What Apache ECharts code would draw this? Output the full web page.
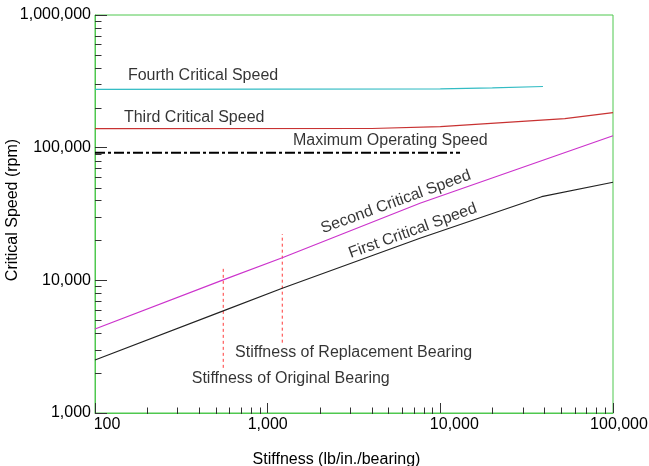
<!DOCTYPE html>
<html><head><meta charset="utf-8">
<script src="https://cdn.jsdelivr.net/npm/echarts@6/dist/echarts.min.js"></script>
<style>html,body{margin:0;padding:0;background:#fff}#c{width:649px;height:466px}</style>
</head><body><div id="c"></div>
<script>
// ---- data ----
const stiffness1 = [100, 553, 1215, 7620, 38600, 100000];
const firstCritical = [2510, 5880, 8710, 20770, 42700, 54900];
const stiffness2 = [100, 553, 1215, 7620, 100000];
const secondCritical = [4300, 10070, 14800, 38100, 123000];
const stiffness3 = [100, 4000, 10000, 52600, 100000];
const thirdCritical = [139000, 139500, 143900, 165500, 183600];
const stiffness4 = [100, 10000, 20000, 39300];
const fourthCritical = [275000, 277000, 282000, 289000];
const maxOpStiffness = [100, 13000];
const maxOperatingSpeed = [91700, 91700];
const originalBearing = 553;
const originalRange = [2190, 12850];
const replacementBearing = 1215;
const replacementRange = [3390, 22370];
const xMin = 100, xMax = 100000, yMin = 1000, yMax = 1000000;
const xTickLabels = ['100', '1,000', '10,000', '100,000'];
const yTickLabels = ['1,000', '10,000', '100,000', '1,000,000'];
const xMinorTicks = [200,300,400,500,600,700,800,900,2000,3000,4000,5000,6000,7000,8000,9000,20000,30000,40000,50000,60000,70000,80000,90000];
const yMinorTicks = [2000,3000,4000,5000,6000,7000,8000,9000,20000,30000,40000,50000,60000,70000,80000,90000,200000,300000,400000,500000,600000,700000,800000,900000];
// annotation texts with their anchor in data coordinates
const annotations = [
  {text: 'Fourth Critical Speed', at: [155, 349000], rotate: 0, align: 'left'},
  {text: 'Third Critical Speed', at: [147, 169500], rotate: 0, align: 'left'},
  {text: 'Maximum Operating Speed', at: [1401, 112300], rotate: 0, align: 'left'},
  {text: 'Second Critical Speed', at: [5530, 39000], rotate: 20, align: 'center'},
  {text: 'First Critical Speed', at: [6930, 23600], rotate: 20, align: 'center'},
  {text: 'Stiffness of Replacement Bearing', at: [647, 2853], rotate: 0, align: 'left'},
  {text: 'Stiffness of Original Bearing', at: [363, 1829], rotate: 0, align: 'left'}
];

const FONT = 'Liberation Sans, Arial, sans-serif';
const GREEN = '#4fc84f';
const zip = (xs, ys) => xs.map((x, i) => [x, ys[i]]);
const fmt = v => Math.round(v).toLocaleString('en-US');

const chart = echarts.init(document.getElementById('c'));
chart.setOption({
  animation: false,
  backgroundColor: '#fff',
  grid: {left: 95, right: 36, top: 15, bottom: 53, containLabel: false, outerBoundsMode: 'none',
    show: true, borderColor: GREEN, borderWidth: 1, backgroundColor: 'transparent'},
  xAxis: {
    type: 'log', logBase: 10, min: xMin, max: xMax,
    name: 'Stiffness (lb/in./bearing)', nameLocation: 'middle', nameGap: 39, nameMoveOverlap: false,
    nameTextStyle: {fontFamily: FONT, fontSize: 16, color: '#000', padding: [0, 35, 0, 0]},
    axisLine: {lineStyle: {color: GREEN, width: 1}},
    axisTick: {inside: true, length: 10, lineStyle: {color: '#333'}},
    splitLine: {show: false},
    axisLabel: {
      margin: 4, color: '#000', fontFamily: FONT, fontSize: 16,
      formatter: (v) => {
        const s = fmt(v);
        const i = xTickLabels.indexOf(s);
        return '{p' + i + '|' + s + '}';
      },
      rich: {
        p0: {fontFamily: FONT, fontSize: 16, color: '#000', padding: [0, 0, 0, 24]},
        p1: {fontFamily: FONT, fontSize: 16, color: '#000'},
        p2: {fontFamily: FONT, fontSize: 16, color: '#000', padding: [0, 0, 0, 28]},
        p3: {fontFamily: FONT, fontSize: 16, color: '#000', padding: [0, 0, 0, 12]}
      }
    }
  },
  yAxis: {
    type: 'log', logBase: 10, min: yMin, max: yMax,
    name: 'Critical Speed (rpm)', nameLocation: 'middle', nameGap: 74, nameMoveOverlap: false,
    nameTextStyle: {fontFamily: FONT, fontSize: 16, color: '#000', padding: [0, 0, 0, 8]},
    axisLine: {lineStyle: {color: GREEN, width: 1}},
    axisTick: {inside: true, length: 12, lineStyle: {color: '#333'}},
    splitLine: {show: false},
    axisLabel: {margin: 4, color: '#000', fontFamily: FONT, fontSize: 16,
      formatter: (v) => { const s = fmt(v); return yTickLabels.includes(s) ? s : ''; }}
  },
  series: [
    {type: 'line', name: 'Fourth Critical Speed', data: zip(stiffness4, fourthCritical), symbol: 'none',
     lineStyle: {color: '#33bcc4', width: 1.2}, z: 3},
    {type: 'line', name: 'Third Critical Speed', data: zip(stiffness3, thirdCritical), symbol: 'none',
     lineStyle: {color: '#c83232', width: 1.2}, z: 3},
    {type: 'line', name: 'Maximum Operating Speed', data: zip(maxOpStiffness, maxOperatingSpeed), symbol: 'none',
     lineStyle: {color: '#000', width: 2, type: [10, 3, 3, 3]}, z: 3},
    {type: 'line', name: 'Second Critical Speed', data: zip(stiffness2, secondCritical), symbol: 'none',
     lineStyle: {color: '#cc33cc', width: 1.2}, z: 3},
    {type: 'line', name: 'First Critical Speed', data: zip(stiffness1, firstCritical), symbol: 'none',
     lineStyle: {color: '#222', width: 1.2}, z: 3},
    {type: 'line', name: 'Original Bearing', data: [[originalBearing, originalRange[0]], [originalBearing, originalRange[1]]], symbol: 'none',
     lineStyle: {color: '#ff3b3b', width: 1, type: [3, 3]}, z: 2},
    {type: 'line', name: 'Replacement Bearing', data: [[replacementBearing, replacementRange[0]], [replacementBearing, replacementRange[1]]], symbol: 'none',
     lineStyle: {color: '#ff3b3b', width: 1, type: [3, 3]}, z: 2},
    {type: 'custom', name: 'minorTicks', silent: true, clip: false, z: 6,
     data: [...xMinorTicks.map(v => [v, yMin, 0]), ...yMinorTicks.map(v => [xMin, v, 1])],
     renderItem: (params, api) => {
       const p = api.coord([api.value(0), api.value(1)]);
       const horiz = api.value(2) === 1;
       const x = Math.round(p[0]) + 0.5, y = Math.round(p[1]) + 0.5;
       return {type: 'line',
         shape: horiz ? {x1: x - 0.5, y1: y, x2: x + 6, y2: y} : {x1: x, y1: y + 0.5, x2: x, y2: y - 6},
         style: {stroke: '#333', lineWidth: 1}};
     }},
    {type: 'scatter', name: 'annotations', silent: true, symbolSize: 0.1, itemStyle: {color: 'transparent'}, z: 7,
     data: annotations.map(a => ({
       value: a.at,
       label: {show: true, formatter: a.text, rotate: a.rotate,
         position: a.align === 'left' ? 'right' : 'inside', distance: 0,
         fontFamily: FONT, fontSize: 16, color: '#000'}
     }))}
  ]
});
</script></body></html>
